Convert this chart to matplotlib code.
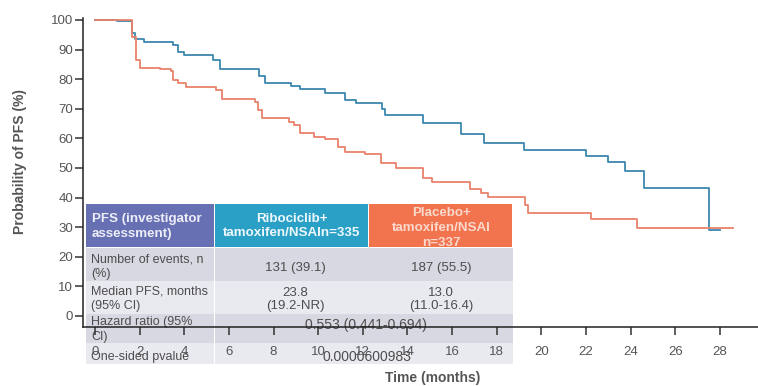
import matplotlib
matplotlib.use("Agg")
import matplotlib.pyplot as plt
from matplotlib.patches import Rectangle

plt.rcParams['font.family'] = ['Liberation Sans', 'DejaVu Sans']

# KM curves (months, % PFS)
ribo_t = [0, 1.0, 1.65, 1.8, 2.2, 3.5, 3.7, 4.0, 5.3, 5.6, 7.35, 7.6, 8.8, 9.2, 10.3,
          11.2, 11.7, 12.85, 13.0, 14.7, 16.4, 17.45, 19.2, 22.0, 23.0, 23.75, 24.6, 27.5]
ribo_s = [100, 99.5, 95.5, 93.5, 92.7, 91.5, 89.3, 88.3, 86.5, 83.3, 81.2, 78.6, 77.7, 76.6, 75.4,
          73.0, 71.9, 70.0, 67.9, 65.1, 61.4, 58.6, 56.1, 54.2, 51.9, 49.1, 43.1, 29.1]
ribo_end = 28.0

plac_t = [0, 1.65, 1.85, 2.0, 2.9, 3.4, 3.5, 3.7, 4.1, 5.4, 5.7, 7.15, 7.3, 7.5, 8.7, 8.9,
          9.2, 9.8, 10.3, 10.9, 11.2, 12.1, 12.8, 13.5, 14.7, 15.1, 16.8, 17.3, 17.6, 19.25,
          19.4, 22.2, 24.3]
plac_s = [100, 94.4, 86.5, 83.7, 83.3, 82.9, 79.7, 78.6, 77.5, 76.4, 73.3, 72.4, 69.6, 66.8, 65.6, 64.5,
          61.7, 60.6, 59.7, 57.2, 55.3, 54.6, 51.6, 49.9, 46.5, 45.4, 42.8, 41.5, 40.3, 37.5,
          34.9, 32.8, 29.6]
plac_end = 28.6

x_ticks = list(range(0, 31, 2))
y_ticks = list(range(0, 101, 10))

# summary table
col_heads = ["PFS (investigator\nassessment)", "Ribociclib+\ntamoxifen/NSAIn=335",
             "Placebo+\ntamoxifen/NSAI\nn=337"]
row_labels = ["Number of events, n\n(%)", "Median PFS, months\n(95% CI)",
              "Hazard ratio (95%\nCI)", "One-sided pvalue"]
ribo_vals = ["131 (39.1)", "23.8\n(19.2-NR)"]
plac_vals = ["187 (55.5)", "13.0\n(11.0-16.4)"]
hr_text = "0.553 (0.441-0.694)"
p_text = "0.0000600983"

W, H = 758, 386
fig = plt.figure(figsize=(W / 100, H / 100), dpi=100)

def fx(px):
    return px / W

def fy(py):
    return 1 - py / H

ax = fig.add_axes([fx(82.7), fy(327.2), fx(775.8 - 82.7), (327.2 - 18.5) / H])
ax.set_facecolor('none')
ax.set_zorder(1)

blue = '#3b88ae'
red = '#e8826c'
ax.step(ribo_t + [ribo_end], ribo_s + [ribo_s[-1]], where='post', color=blue, lw=1.3)
ax.step(plac_t + [plac_end], plac_s + [plac_s[-1]], where='post', color=red, lw=1.3)

ax.set_xlim(-0.55, 30.5)
ax.set_ylim(-3.8, 100.5)
ax.set_xticks(x_ticks)
ax.set_yticks(y_ticks)
for s in ['top', 'right']:
    ax.spines[s].set_visible(False)
for s in ['left', 'bottom']:
    ax.spines[s].set_linewidth(1.1)
    ax.spines[s].set_color('#222222')
ax.tick_params(axis='both', length=6, width=1.1, color='#333333', labelcolor='#555555',
               labelsize=9.5)
ax.tick_params(axis='x', pad=7.5)
ax.tick_params(axis='y', pad=1)

fig.text(fx(20), fy(162), "Probability of PFS (%)", rotation=90, ha='center', va='center',
         fontsize=10, fontweight='bold', color='#555555')
fig.text(fx(433), fy(378), "Time (months)", ha='center', va='center',
         fontsize=10, fontweight='bold', color='#555555')

# table, drawn under the axes
cols = [86, 215, 369, 513]
rows = [204, 248, 280.5, 313.5, 343, 364]
head_colors = ['#6670b2', '#2ba0c6', '#f2744f']
body_colors = ['#d7d8e1', '#e9eaf0', '#d7d8e1', '#e9eaf0']

def cell(x0, x1, y0, y1, color):
    r = Rectangle((fx(x0), fy(y1)), fx(x1) - fx(x0), fy(y0) - fy(y1),
                  transform=fig.transFigure, facecolor=color, edgecolor='none', zorder=-2)
    fig.patches.append(r)
    return r

head_rects = []
for i in range(3):
    head_rects.append(cell(cols[i], cols[i + 1] - 1.5, rows[0], rows[1] - 0.8, head_colors[i]))
for j in range(4):
    cell(cols[0], cols[1] - 1.5, rows[j + 1], rows[j + 2], body_colors[j])
    cell(cols[1], cols[3], rows[j + 1], rows[j + 2], body_colors[j])

hkw = dict(fontsize=9.6, linespacing=1.33, zorder=-1, fontweight='bold')
fig.text(fx(92), fy(226.5), col_heads[0], ha='left', va='center', color='#eeeef8', **hkw)
fig.text(fx(292), fy(226), col_heads[1], ha='center', va='center', color='#eef8fc', **hkw)
t = fig.text(fx(441), fy(228), col_heads[2], ha='center', va='center', color='#fbd9cc', **hkw)
t.set_clip_path(head_rects[2])

body = '#4d4d4d'
label_y = [266.5, 299, 329.5, 357]
for lab, yy in zip(row_labels, label_y):
    fig.text(fx(91), fy(yy), lab, ha='left', va='center', color=body, fontsize=9.0,
             linespacing=1.25, zorder=-1)
for k, yy in enumerate([268, 299.5]):
    fig.text(fx(295), fy(yy), ribo_vals[k], ha='center', va='center', color=body,
             fontsize=9.5, linespacing=1.22, zorder=-1)
    fig.text(fx(441), fy(yy), plac_vals[k], ha='center', va='center', color=body,
             fontsize=9.5, linespacing=1.22, zorder=-1)
fig.text(fx(366), fy(325), hr_text, ha='center', va='center', color=body, fontsize=10, zorder=-1)
fig.text(fx(367), fy(357), p_text, ha='center', va='center', color=body, fontsize=10, zorder=-1)

fig.savefig('out.png', dpi=100)
